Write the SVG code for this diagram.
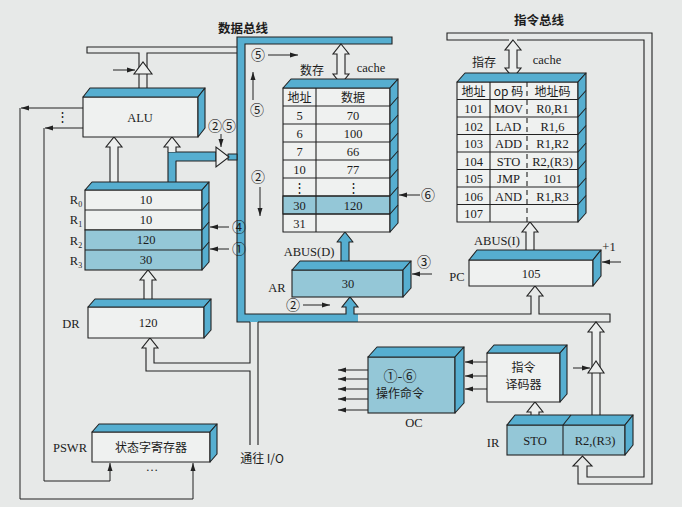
<svg xmlns="http://www.w3.org/2000/svg" width="682" height="507" viewBox="0 0 682 507">
<defs>
<marker id="ah" markerUnits="userSpaceOnUse" markerWidth="8" markerHeight="6" refX="8" refY="3" orient="auto"><path d="M0,0.5 L8,3 L0,5.5 Z" fill="#222"/></marker>
<style>
.l{fill:none;stroke:#222;stroke-width:1.1}
.w{fill:#eff1f0;stroke:#222;stroke-width:1.1;stroke-linejoin:round}
.b{fill:#94c7d7;stroke:#222;stroke-width:1.1}
.d{fill:#56aed0;stroke:#222;stroke-width:1.1;stroke-linejoin:round}
.h{fill:#eceeed;stroke:#222;stroke-width:1.1}
.s{fill:none;stroke:#222;stroke-width:1;marker-end:url(#ah)}
text{font-family:"Liberation Serif","Noto Sans CJK SC",serif;font-size:12.5px;fill:#1c1c1c;text-anchor:middle}
.cn{font-family:"Noto Sans CJK SC",sans-serif;font-size:12px}
.ti{font-family:"Noto Sans CJK SC",sans-serif;font-size:12.5px;font-weight:bold}
.cc{font-family:"Noto Sans CJK SC",sans-serif;font-size:14px}
</style>
</defs>
<rect width="682" height="507" fill="#e7e9e8"/>

<g id="connectors">
  <path d="M237,37 H392 V44 H245 V314 H346 V307 H342 L350,297 L358,307 H354 V314 H358 V322 H237 Z" fill="#56aed0"/>
  <path class="l" d="M250,322 H237 V37 H392 V44 H245 V314 H346 V307 H342 L350,297 L358,307 H354 V314 H531 V296 H527 L535,286 L543,296 H539 V314 H610 V322 H258"/>
  <path class="l" d="M237,47 H87 V53 H139 V92 M147,92 V53 H237"/>
  <polygon class="h" points="134,74 152,74 143,62"/>
  <path class="s" d="M113,70 H135"/>
  <path class="d" d="M168,186 V152 H216 V161 H176 V186"/>
  <rect class="d" x="228" y="154" width="9" height="6"/>
  <polygon class="h" points="216,147 216,167 229,157"/>
  <path class="h" d="M168,152 V147 H164 L172,137 L180,147 H176 V152"/>
  <path class="s" d="M221,134 V147"/>
  <path class="h" d="M110,186 V147 H106 L114,137 L122,147 H118 V186"/>
  <path class="h" d="M144,302 V280 H140 L148,270 L156,280 H152 V302"/>
  <path class="l" d="M250,322 V363 H154 V348 H158 L150,338 L142,348 H146 V371 H250 V445 M258,322 V445"/>
  <path class="d" d="M341,264 V242 H337 L345,232 L353,242 H349 V264"/>
  <polygon class="h" points="341,44 349,54 345,54 345,74 349,74 341,84 333,74 337,74 337,54 333,54"/>
  <path class="l" d="M509,40 H447 V33 H652 V484 H578 V466 H573 L582.5,456 L592,466 H587 V477 H644 V40 H517"/>
  <polygon class="h" points="513,40 521,50 517,50 517,68 521,68 513,78 505,68 509,68 509,50 505,50"/>
  <path class="h" d="M526,253 V232 H522 L530,222 L538,232 H534 V253"/>
  <path class="h" d="M531,421 V412 H527 L535,402 L543,412 H539 V421"/>
  <path class="h" d="M592,421 V332 H588 L596,322 L604,332 H600 V421"/>
  <polygon class="h" points="588,373 604,373 596,361"/>
  <path class="s" d="M573,368 H590"/>
  <path class="s" d="M621,262 H602"/>
  <path class="s" d="M432,274 H412"/>
  <path class="s" d="M420,195 H399"/>
  <path class="s" d="M229,227 H210"/>
  <path class="s" d="M229,249 H210"/>
  <path class="s" d="M487,362 H465"/>
  <path class="s" d="M487,376 H465"/>
  <path class="s" d="M487,389 H465"/>
  <path class="s" d="M368,370 H338"/>
  <path class="s" d="M368,379 H338"/>
  <path class="s" d="M368,389 H338"/>
  <path class="s" d="M368,399 H338"/>
  <path class="s" d="M368,410 H338"/>
  <path class="s" d="M268,55 H298"/>
  <path class="s" d="M253,100 V72"/>
  <path class="s" d="M260,187 V216"/>
  <path class="s" d="M303,305 H330"/>
  <path class="s" d="M83,108 H21"/>
  <path class="s" d="M20,108 V499 H193 V463"/>
  <path class="s" d="M83,128 H45"/>
  <path class="s" d="M44,128 V481 H110 V463"/>
</g>

<g id="labels">
  <text class="ti" x="243" y="33">数据总线</text>
  <text class="ti" x="539" y="25">指令总线</text>
  <text class="cc" x="222" y="131">②⑤</text>
  <text class="cc" x="258" y="60">⑤</text>
  <text class="cc" x="257" y="115">⑤</text>
  <text class="cc" x="258" y="182">②</text>
  <text class="cc" x="293" y="310">②</text>
  <text class="cc" x="239" y="232">④</text>
  <text class="cc" x="239" y="254">①</text>
  <text class="cc" x="428" y="200">⑥</text>
  <text class="cc" x="424" y="267">③</text>
  <text x="609" y="251">+1</text>
  <text x="62" y="121">⋮</text>
  <text class="cn" x="312" y="75">数存</text>
  <text x="371" y="72">cache</text>
  <text class="cn" x="484" y="67">指存</text>
  <text x="547" y="64">cache</text>
  <text x="309" y="256">ABUS(D)</text>
  <text x="497" y="245">ABUS(I)</text>
  <text class="cn" x="262" y="463">通往 I/O</text>
</g>

<g id="alu">
  <rect class="w" x="83" y="97" width="115" height="40"/>
  <polygon class="d" points="83,97 90,88 205,88 198,97"/>
  <polygon class="d" points="198,97 205,88 205,128 198,137"/>
  <text x="140" y="122" font-size="13.5">ALU</text>
</g>

<g id="registers">
  <rect class="w" x="85" y="190" width="117" height="40"/>
  <rect class="b" x="85" y="230" width="117" height="40"/>
  <path class="l" d="M85,210 H202 M85,250 H202"/>
  <polygon class="d" points="85,190 92,182 209,182 202,190"/>
  <polygon class="d" points="202,190 209,182 209,262 202,270"/>
  <path class="l" d="M202,210 L209,202 M202,230 L209,222 M202,250 L209,242"/>
  <text x="146" y="204">10</text>
  <text x="146" y="224">10</text>
  <text x="146" y="244">120</text>
  <text x="146" y="264">30</text>
  <text x="76" y="204">R<tspan font-size="8" dy="3">0</tspan></text>
  <text x="76" y="224">R<tspan font-size="8" dy="3">1</tspan></text>
  <text x="76" y="245">R<tspan font-size="8" dy="3">2</tspan></text>
  <text x="76" y="265">R<tspan font-size="8" dy="3">3</tspan></text>
</g>

<g id="dr">
  <rect class="w" x="88" y="307" width="116" height="31"/>
  <polygon class="d" points="88,307 95,299 211,299 204,307"/>
  <polygon class="d" points="204,307 211,299 211,330 204,338"/>
  <text x="148" y="327">120</text>
  <text x="71" y="328">DR</text>
</g>

<g id="pswr">
  <rect class="w" x="92" y="432" width="118" height="30"/>
  <polygon class="d" points="92,432 99,424 217,424 210,432"/>
  <polygon class="d" points="210,432 217,424 217,454 210,462"/>
  <text class="cn" x="151" y="452" font-size="13">状态字寄存器</text>
  <text x="70" y="452">PSWR</text>
  <text x="152" y="471">…</text>
</g>

<g id="dcache">
  <rect class="w" x="283" y="88" width="107" height="144"/>
  <rect class="b" x="283" y="196" width="107" height="18"/>
  <path class="l" d="M283,106 H390 M283,124 H390 M283,142 H390 M283,160 H390 M283,178 H390 M283,196 H390 M283,214 H390 M316,88 V232"/>
  <polygon class="d" points="283,88 291,79 398,79 390,88"/>
  <polygon class="d" points="390,88 398,79 398,223 390,232"/>
  <path class="l" d="M390,106 L398,97 M390,124 L398,115 M390,142 L398,133 M390,160 L398,151 M390,178 L398,169 M390,196 L398,187 M390,214 L398,205"/>
  <text class="cn" x="299.5" y="102">地址</text>
  <text class="cn" x="353" y="102">数据</text>
  <text x="299.5" y="120">5</text><text x="353" y="120">70</text>
  <text x="299.5" y="138">6</text><text x="353" y="138">100</text>
  <text x="299.5" y="156">7</text><text x="353" y="156">66</text>
  <text x="299.5" y="174">10</text><text x="353" y="174">77</text>
  <text x="299.5" y="192">⋮</text><text x="353" y="192">⋮</text>
  <text x="299.5" y="210">30</text><text x="353" y="210">120</text>
  <text x="299.5" y="228">31</text>
</g>

<g id="ar">
  <rect class="b" x="292" y="270" width="111" height="27"/>
  <polygon class="d" points="292,270 300,261 411,261 403,270"/>
  <polygon class="d" points="403,270 411,261 411,288 403,297"/>
  <text x="348" y="288">30</text>
  <text x="277" y="292">AR</text>
</g>

<g id="icache">
  <rect class="w" x="457" y="82" width="121" height="140"/>
  <path class="l" d="M457,99.5 H578 M457,117 H578 M457,134.5 H578 M457,152 H578 M457,169.5 H578 M457,187 H578 M457,204.5 H578 M490,82 V222"/>
  <path class="l" d="M527,82 V222" stroke-dasharray="5,4"/>
  <polygon class="d" points="457,82 465,73 586,73 578,82"/>
  <polygon class="d" points="578,82 586,73 586,213 578,222"/>
  <path class="l" d="M578,99.5 L586,90.5 M578,117 L586,108 M578,134.5 L586,125.5 M578,152 L586,143 M578,169.5 L586,160.5 M578,187 L586,178 M578,204.5 L586,195.5"/>
  <text class="cn" x="473.5" y="96">地址</text>
  <text class="cn" x="508.5" y="96">op 码</text>
  <text class="cn" x="552.5" y="96">地址码</text>
  <text x="473.5" y="113">101</text><text x="508.5" y="113">MOV</text><text x="552.5" y="113">R0,R1</text>
  <text x="473.5" y="130.5">102</text><text x="508.5" y="130.5">LAD</text><text x="552.5" y="130.5">R1,6</text>
  <text x="473.5" y="148">103</text><text x="508.5" y="148">ADD</text><text x="552.5" y="148">R1,R2</text>
  <text x="473.5" y="165.5">104</text><text x="508.5" y="165.5">STO</text><text x="552.5" y="165.5">R2,(R3)</text>
  <text x="473.5" y="183">105</text><text x="508.5" y="183">JMP</text><text x="552.5" y="183">101</text>
  <text x="473.5" y="200.5">106</text><text x="508.5" y="200.5">AND</text><text x="552.5" y="200.5">R1,R3</text>
  <text x="473.5" y="218">107</text>
</g>

<g id="pc">
  <rect class="w" x="469" y="260" width="124" height="26"/>
  <polygon class="d" points="469,260 477,250 601,250 593,260"/>
  <polygon class="d" points="593,260 601,250 601,276 593,286"/>
  <text x="531" y="278">105</text>
  <text x="457" y="281">PC</text>
</g>

<g id="oc">
  <rect class="b" x="368" y="357" width="87" height="56"/>
  <polygon class="d" points="368,357 377,347 464,347 455,357"/>
  <polygon class="d" points="455,357 464,347 464,403 455,413"/>
  <text class="cc" x="400" y="381">①-⑥</text>
  <text class="cn" x="400" y="398" font-size="13">操作命令</text>
  <text x="414" y="427">OC</text>
</g>

<g id="decoder">
  <rect class="w" x="487" y="353" width="73" height="49"/>
  <polygon class="d" points="487,353 494,345 567,345 560,353"/>
  <polygon class="d" points="560,353 567,345 567,394 560,402"/>
  <text class="cn" x="523.5" y="372" font-size="13">指令</text>
  <text class="cn" x="523.5" y="389" font-size="13">译码器</text>
</g>

<g id="ir">
  <rect class="b" x="507" y="425" width="118" height="30"/>
  <path class="l" d="M563,425 V455"/>
  <polygon class="d" points="507,425 515,415 633,415 625,425"/>
  <path class="l" d="M563,425 L571,415"/>
  <polygon class="d" points="625,425 633,415 633,445 625,455"/>
  <text x="535" y="445">STO</text>
  <text x="595" y="445">R2,(R3)</text>
  <text x="493" y="447">IR</text>
</g>
</svg>
